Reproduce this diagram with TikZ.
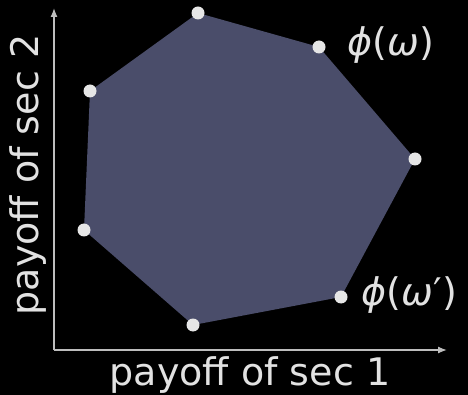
\documentclass[tikz,border=0pt]{standalone}
\usepackage{fontspec}
\setmainfont{DejaVu Sans}
\usepackage{tikz}
\usetikzlibrary{arrows.meta,positioning,calc}
\definecolor{bgcol}{HTML}{000000}
\definecolor{polycol}{HTML}{4A4D6A}
\definecolor{dotcol}{HTML}{E6E6E6}
\definecolor{txtcol}{HTML}{E2E2E2}
\definecolor{axcol}{HTML}{BDBDBD}
\tikzset{
  pt/.style    ={circle,fill=dotcol,inner sep=0pt,minimum size=13pt},
  axis/.style  ={draw=axcol,line width=1.3pt,-{Latex[length=9pt,width=7pt]}},
  lbl/.style   ={text=txtcol,font=\fontsize{38}{42}\selectfont,inner sep=0pt},
}

\begin{document}
\begin{tikzpicture}[x=1pt,y=-1pt]
  \fill[bgcol] (0,0) rectangle (468,395);
  \useasboundingbox (0,0) rectangle (468,395);
  % axes
  \coordinate (o)  at (54,350);
  \coordinate (xe) at (447,350);
  \coordinate (ye) at (54,8);
  \draw[axis] (o) -- (xe);
  \draw[axis] (o) -- (ye);
  % payoff vectors
  \coordinate (v1) at (198,13);
  \coordinate (v2) at (319,47);
  \coordinate (v3) at (415,159);
  \coordinate (v4) at (341,297);
  \coordinate (v5) at (193,325);
  \coordinate (v6) at (84,230);
  \coordinate (v7) at (90,91);
  \fill[polycol] (v1) -- (v2) -- (v3) -- (v4) -- (v5) -- (v6) -- (v7) -- cycle;
  \foreach \v in {v1,v2,v3,v4,v5,v6,v7}
    \node[pt] (d\v) at (\v) {};
  \node[lbl,right=22pt of dv2,yshift=2pt] (w)  {{\itshape ϕ}({\itshape ω})};
  \node[lbl,right=14pt of dv4,yshift=2pt] (w2) {{\itshape ϕ}({\itshape ω}′)};
  \node[lbl] (xl) at (250,375) {payoff of sec 1};
  \node[lbl,rotate=90] (yl) at (28,175) {payoff of sec 2};
\end{tikzpicture}
\end{document}
